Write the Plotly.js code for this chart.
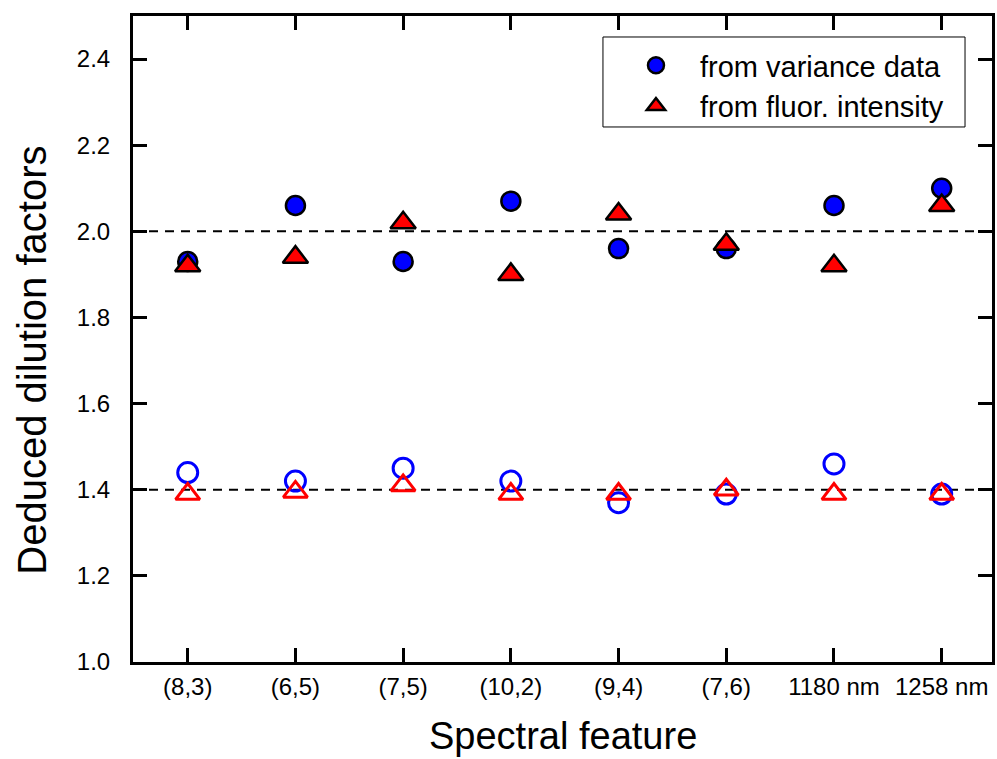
<!DOCTYPE html>
<html>
<head>
<meta charset="utf-8">
<script src="https://cdn.plot.ly/plotly-3.0.1.min.js"></script>
<style>html,body{margin:0;padding:0;background:#fff;}#chart{width:997px;height:759px;}</style>
</head>
<body>
<div id="chart"></div>
<script>
// Data
var categories = ["(8,3)", "(6,5)", "(7,5)", "(10,2)", "(9,4)", "(7,6)", "1180 nm", "1258 nm"];
var varianceHigh = [1.93, 2.06, 1.93, 2.07, 1.96, 1.96, 2.06, 2.10];
var fluorHigh    = [1.92, 1.94, 2.02, 1.90, 2.04, 1.97, 1.92, 2.06];
var varianceLow  = [1.44, 1.42, 1.45, 1.42, 1.37, 1.39, 1.46, 1.39];
var fluorLow     = [1.39, 1.395, 1.41, 1.39, 1.39, 1.40, 1.39, 1.39];
var refLines = [2.0, 1.4];
var seriesNames = ["from variance data", "from fluor. intensity"];
var yTickVals = [1.0, 1.2, 1.4, 1.6, 1.8, 2.0, 2.2, 2.4];
var yTickText = ['1.0', '1.2', '1.4', '1.6', '1.8', '2.0', '2.2', '2.4'];
var xTitle = 'Spectral feature';
var yTitle = 'Deduced dilution factors';

var xIdx = categories.map(function(_, i){ return i; });
var FONT = '"Liberation Sans", Arial, sans-serif';

var traces = [
  {x: xIdx, y: varianceLow, mode: 'markers', showlegend: false, hoverinfo: 'y',
   marker: {symbol: 'circle-open', size: 20, color: '#0000ff', line: {width: 3, color: '#0000ff'}}},
  {x: xIdx, y: fluorLow, mode: 'markers', showlegend: false, hoverinfo: 'y',
   marker: {symbol: 'triangle-up-open', size: 21, color: '#ff0000', line: {width: 3, color: '#ff0000'}}},
  {x: xIdx, y: varianceHigh, mode: 'markers', name: seriesNames[0],
   marker: {symbol: 'circle', size: 19, color: '#0000ff', line: {width: 2.5, color: '#000'}}},
  {x: xIdx, y: fluorHigh, mode: 'markers', name: seriesNames[1],
   marker: {symbol: 'triangle-up', size: 22, color: '#ff0000', line: {width: 2.5, color: '#000'}}}
];

var shapes = refLines.map(function(v){
  return {type: 'line', xref: 'paper', yref: 'y', x0: 0, x1: 1, y0: v, y1: v,
          line: {color: '#000', width: 2, dash: '9px,7px'}, layer: 'below'};
});
// legend frame
shapes.push({type: 'rect', xref: 'paper', yref: 'paper',
  x0: 0.5471, x1: 0.9686, y0: 0.8282, y1: 0.9675,
  line: {color: '#000', width: 1}, fillcolor: 'rgba(0,0,0,0)', layer: 'above'});

var layout = {
  width: 997, height: 759,
  margin: {l: 133, r: 5, t: 16, b: 97},
  paper_bgcolor: '#fff', plot_bgcolor: '#fff',
  font: {family: FONT, color: '#000', size: 24},
  showlegend: true,
  legend: {x: 0.5576, y: 0.963, xanchor: 'left', yanchor: 'top',
           borderwidth: 0, bgcolor: 'rgba(0,0,0,0)',
           font: {family: FONT, size: 29, color: '#000'}, itemwidth: 78,
           tracegroupgap: 0},
  xaxis: {
    range: [-0.508, 7.467], tickmode: 'array', tickvals: xIdx, ticktext: categories,
    showline: true, linewidth: 3, linecolor: '#000', mirror: 'ticks',
    ticks: 'inside', ticklen: 14, tickwidth: 3, tickcolor: '#000', tickangle: 0,
    showgrid: false, zeroline: false, ticklabelstandoff: 1,
    tickfont: {family: FONT, size: 24, color: '#000'},
    automargin: false
  },
  yaxis: {
    range: [1.0, 2.5], tickmode: 'array', tickvals: yTickVals, ticktext: yTickText,
    showline: true, linewidth: 3, linecolor: '#000', mirror: 'ticks',
    ticks: 'inside', ticklen: 14, tickwidth: 3, tickcolor: '#000',
    showgrid: false, zeroline: false, ticklabelstandoff: 15,
    tickfont: {family: FONT, size: 24, color: '#000'},
    automargin: false
  },
  annotations: [
    {text: xTitle, xref: 'paper', yref: 'paper', x: 0.5, y: -0.1145,
     xanchor: 'center', yanchor: 'middle', showarrow: false,
     font: {family: FONT, size: 38, color: '#000'}},
    {text: yTitle, xref: 'paper', yref: 'paper', x: -0.118, y: 0.4675, textangle: -90,
     xanchor: 'center', yanchor: 'middle', showarrow: false,
     font: {family: FONT, size: 40, color: '#000'}}
  ],
  shapes: shapes
};

Plotly.newPlot('chart', traces, layout, {displayModeBar: false, staticPlot: true});
</script>
</body>
</html>
